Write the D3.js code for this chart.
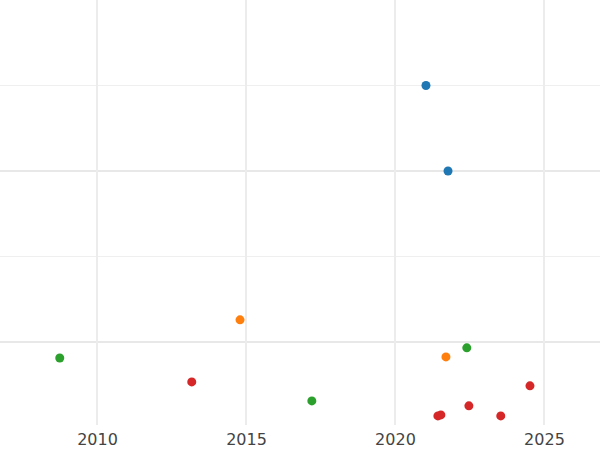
<!DOCTYPE html>
<html><head><meta charset="utf-8">
<script src="https://cdn.jsdelivr.net/npm/d3@7"></script>
<style>body{margin:0;background:#fff}</style>
</head><body><svg id="c" width="600" height="450"></svg>
<script>
const categories = ["blue","orange","green","red"];
const colors = ["#1f77b4","#ff7f0e","#2ca02c","#d62728"];
const seriesYears = [
  [2021.04, 2021.78],
  [2014.80, 2021.71],
  [2008.75, 2022.41, 2017.21],
  [2013.18, 2021.44, 2021.54, 2022.48, 2023.55, 2024.53]
];
const seriesValues = [
  [2.50, 2.00],
  [1.13, 0.913],
  [0.907, 0.966, 0.656],
  [0.767, 0.568, 0.574, 0.627, 0.568, 0.744]
];
const xTicks = [2010, 2015, 2020, 2025];
const yMajor = [1, 2];
const yMinor = [1.5, 2.5];

const svg = d3.select("#c");
const x = d3.scaleLinear().domain([2006.745, 2026.88]).range([0, 600]);
const y = d3.scaleLinear().domain([0.515, 3]).range([425, 0]);

const g = svg.append("g");
g.selectAll(".ymin").data(yMinor).join("line").attr("x1",0).attr("x2",600)
 .attr("y1",d=>y(d)).attr("y2",d=>y(d)).attr("stroke","#efefef").attr("stroke-width",1);
g.selectAll(".ymaj").data(yMajor).join("line").attr("x1",0).attr("x2",600)
 .attr("y1",d=>y(d)).attr("y2",d=>y(d)).attr("stroke","#e8e8e8").attr("stroke-width",2);
g.selectAll(".xmaj").data(xTicks).join("line").attr("y1",0).attr("y2",425)
 .attr("x1",d=>x(d)).attr("x2",d=>x(d)).attr("stroke","#ececec").attr("stroke-width",2);

const ax = svg.append("g").attr("transform","translate(0,425)")
 .call(d3.axisBottom(x).tickValues(xTicks).tickFormat(d3.format("d")).tickSize(0).tickPadding(9));
ax.select(".domain").remove();
ax.selectAll("text").attr("font-family","DejaVu Sans").attr("font-size",16).attr("fill","#444");

categories.forEach((c,i)=>{
  svg.append("g").selectAll("circle").data(seriesYears[i].map((yr,j)=>[yr,seriesValues[i][j]]))
   .join("circle").attr("cx",d=>x(d[0])).attr("cy",d=>y(d[1])).attr("r",4.5).attr("fill",colors[i]);
});
</script></body></html>
